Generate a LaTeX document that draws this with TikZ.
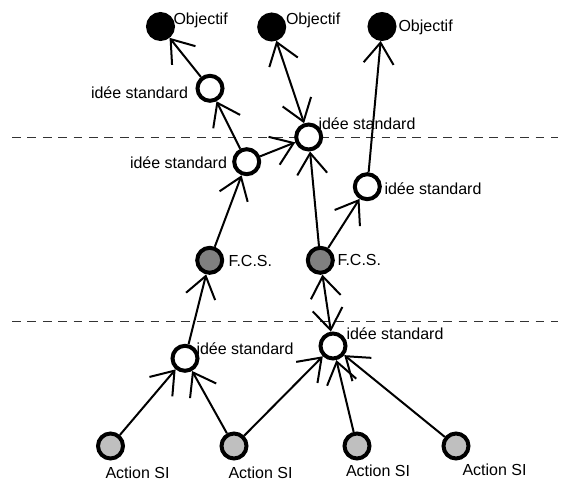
\documentclass[tikz,border=0pt]{standalone}
\usepackage{fontspec}
\setmainfont{Liberation Sans}
\usetikzlibrary{arrows.meta}
\begin{document}
\begin{tikzpicture}[x=1pt,y=-1pt,
  every node/.style={font=\fontsize{16}{19}\selectfont},
  ball/.style={circle,draw=black,line width=4pt,minimum size=25pt,inner sep=0pt},
  obj/.style={ball,fill=black},
  idea/.style={ball,fill=white},
  fcs/.style={ball,fill=black!50},
  act/.style={ball,fill=black!25},
  lab/.style={inner sep=0pt,outer sep=0pt},
  tipb/.tip={Straight Barb[length=21pt,width=30pt]},
  conn/.style={line width=2pt,-tipb},
  both/.style={line width=2pt,tipb-tipb},
  sep/.style={dash pattern=on 8.7pt off 6.7pt,line width=1pt,black!80}]
\useasboundingbox (0,0) rectangle (565,484);
% separators
\coordinate (d1l) at (12,137.3); \coordinate (d1r) at (558,137.3);
\coordinate (d2l) at (12,321.7); \coordinate (d2r) at (558,321.7);
\draw[sep] (d1l) -- (d1r);
\draw[sep] (d2l) -- (d2r);
% nodes
\node[obj] (O1) at (160.5,26.5) {};
\node[obj] (O2) at (271.7,27) {};
\node[obj] (O3) at (382,26.5) {};
\node[idea] (I1) at (210,88.3) {};
\node[idea] (I2) at (308.7,137) {};
\node[idea] (I3) at (246.7,161.7) {};
\node[idea] (I4) at (367.3,186.7) {};
\node[fcs] (F1) at (209.7,260.3) {};
\node[fcs] (F2) at (320.3,260.3) {};
\node[idea] (I5) at (185,358.3) {};
\node[idea] (I6) at (333,346) {};
\node[act] (A1) at (110.5,446) {};
\node[act] (A2) at (234,446) {};
\node[act] (A3) at (357,446) {};
\node[act] (A4) at (456,446) {};
% labels
\node[lab,anchor=base west] (lO1) at (173.5,25) {Objectif};
\node[lab,anchor=base west] (lO2) at (286,25) {Objectif};
\node[lab,anchor=base west] (lO3) at (398.5,31.5) {Objectif};
\node[lab,anchor=base east] (lI1) at (188,99) {idée standard};
\node[lab,anchor=base west] (lI2) at (318.5,129.5) {idée standard};
\node[lab,anchor=base east] (lI3) at (227,168) {idée standard};
\node[lab,anchor=base west] (lI4) at (384.5,194) {idée standard};
\node[lab,anchor=base west] (lF1) at (228.5,266.5) {F.C.S.};
\node[lab,anchor=base west] (lF2) at (337.5,265.5) {F.C.S.};
\node[lab,anchor=base west] (lI5) at (196.5,354) {idée standard};
\node[lab,anchor=base west] (lI6) at (346.5,339) {idée standard};
\node[lab,anchor=base west] (lA1) at (105.5,478) {Action SI};
\node[lab,anchor=base west] (lA2) at (228.5,478.5) {Action SI};
\node[lab,anchor=base west] (lA3) at (346,476.5) {Action SI};
\node[lab,anchor=base west] (lA4) at (462.5,475) {Action SI};
% connectors
\draw[conn] (I1) -- (O1);
\draw[conn] (I3) -- (I1);
\draw[conn] (I3) -- (I2);
\draw[both] (O2) -- (I2);
\draw[conn] (I4) -- (O3);
\draw[conn] (F2) -- (I2);
\draw[conn] (F2) -- (I4);
\draw[conn] (F1) -- (I3);
\draw[conn] (I5) -- (F1);
\draw[both] (F2) -- (I6);
\draw[conn] (A1) -- (I5);
\draw[conn] (A2) -- (I5);
\draw[conn] (A2) -- (I6);
\draw[conn] (A3) -- (I6);
\draw[conn] (A4) -- (I6);
\end{tikzpicture}
\end{document}
